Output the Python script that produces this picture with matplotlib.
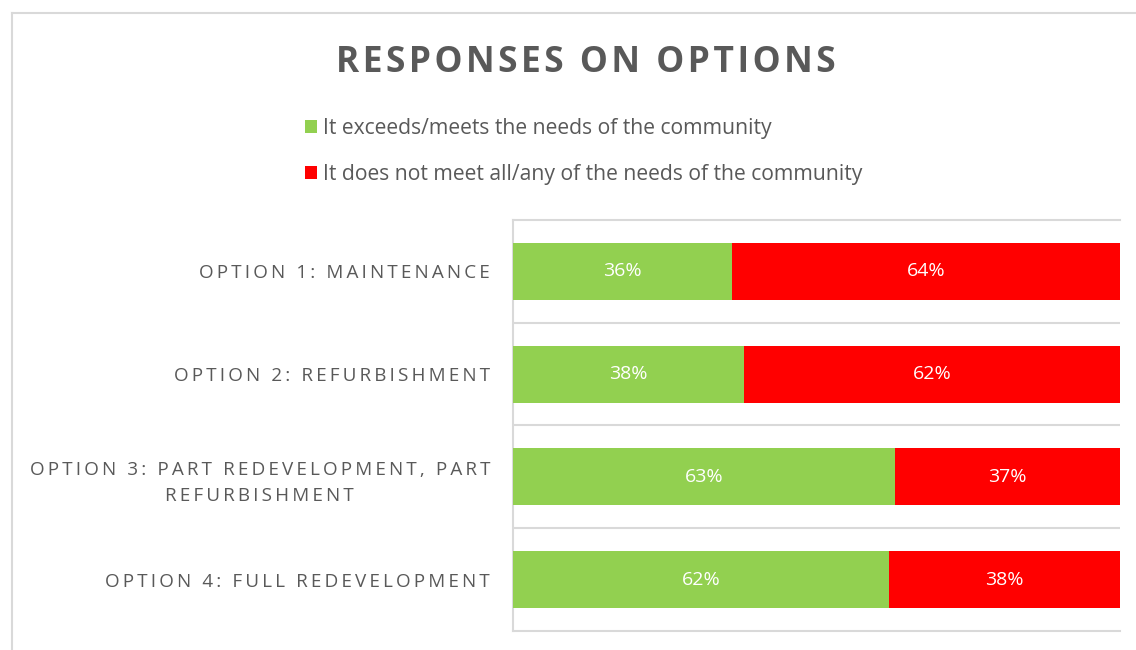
import matplotlib
matplotlib.use("Agg")
import matplotlib.pyplot as plt
import numpy as np
from matplotlib.lines import Line2D

# data
options = ["OPTION 1: MAINTENANCE",
           "OPTION 2: REFURBISHMENT",
           "OPTION 3: PART REDEVELOPMENT, PART\nREFURBISHMENT",
           "OPTION 4: FULL REDEVELOPMENT"]
meets = [0.36, 0.38, 0.63, 0.62]
not_meets = [0.64, 0.62, 0.37, 0.38]
series_names = ["It exceeds/meets the needs of the community",
                "It does not meet all/any of the needs of the community"]

green = "#92D050"
red = "#FF0000"
grey_text = "#595959"
grid_col = "#D9D9D9"

plt.rcParams['font.family'] = ['Open Sans', 'DejaVu Sans']


def spaced(s, sep):
    # fake letter spacing by putting a thin space between characters
    return "\n".join(sep.join(line) for line in s.split("\n"))


fig = plt.figure(figsize=(11.36, 6.5), dpi=100)
ax = fig.add_axes([513 / 1136, 1 - 631 / 650, (1120 - 513) / 1136, (631 - 220) / 650])

y = np.arange(len(options))
h = 0.555
b1 = ax.barh(y, meets, height=h, color=green, label=series_names[0], zorder=3)
b2 = ax.barh(y, not_meets, left=meets, height=h, color=red, label=series_names[1], zorder=3)

for bars, vals in [(b1, meets), (b2, not_meets)]:
    for rect, v in zip(bars, vals):
        ax.text(rect.get_x() + rect.get_width() / 2, rect.get_y() + rect.get_height() / 2,
                "%d%%" % round(v * 100), ha="center", va="center",
                color="white", fontsize=14, zorder=4)

ax.set_xlim(0, 1)
ax.set_ylim(len(options) - 0.5, -0.5)
ax.set_xticks([])
ax.set_yticks(y)
ax.set_yticklabels([spaced(o, "\u2009") for o in options], fontsize=13.6, color=grey_text)
for lbl in ax.get_yticklabels():
    lbl.set_multialignment("center")
    lbl.set_linespacing(1.55)
ax.tick_params(axis="y", length=0, pad=16.5)
ax.set_yticks(np.arange(len(options) - 1) + 0.5, minor=True)
ax.tick_params(axis="y", which="minor", length=0)
ax.grid(axis="y", which="minor", color=grid_col, linewidth=1.5, zorder=0)

ax.spines["right"].set_visible(False)
for s in ["left", "top", "bottom"]:
    ax.spines[s].set_color(grid_col)
    ax.spines[s].set_linewidth(1.5)

# outer chart frame (cut off at right and bottom)
fig.add_artist(Line2D([12 / 1136, 12 / 1136], [0, 1 - 13 / 650], transform=fig.transFigure,
                      color=grid_col, linewidth=1.5))
fig.add_artist(Line2D([12 / 1136, 1], [1 - 13 / 650, 1 - 13 / 650], transform=fig.transFigure,
                      color=grid_col, linewidth=1.5))

fig.text(586 / 1136, 1 - 63 / 650, spaced("RESPONSES ON OPTIONS", "\u200a"),
         ha="center", va="center", fontsize=25.5, fontweight="bold", color=grey_text)

leg = fig.legend(handles=[b1, b2], loc="upper left",
                 bbox_to_anchor=(305 / 1136, 1 - 118 / 650),
                 frameon=False, fontsize=15.2, handlelength=0.58, handleheight=0.58,
                 handletextpad=0.25, labelspacing=1.2, borderpad=0, borderaxespad=0)
for t in leg.get_texts():
    t.set_color(grey_text)

fig.savefig("out.png", dpi=100)
